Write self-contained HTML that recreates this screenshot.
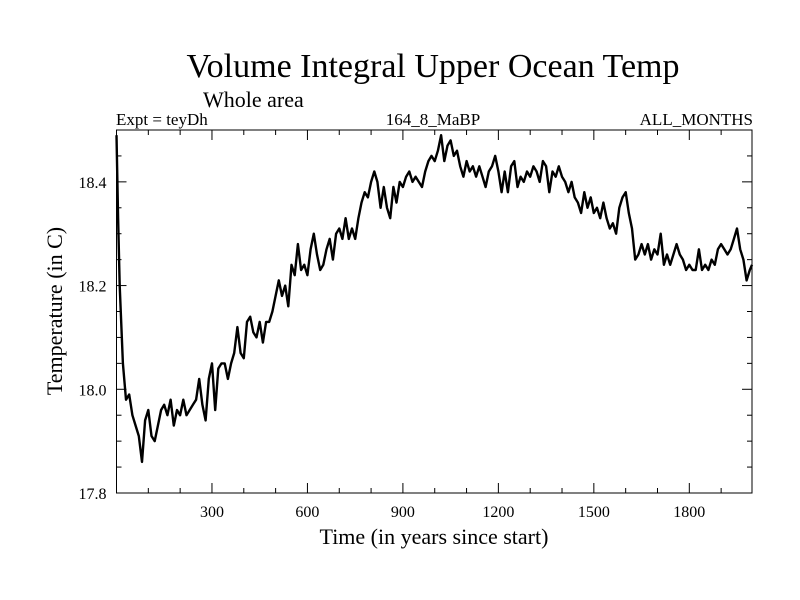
<!DOCTYPE html>
<html><head><meta charset="utf-8"><style>
body{margin:0;background:#fff}
svg{display:block;font-family:"Liberation Serif",serif}
</style></head><body>
<svg id="chart" width="800" height="600" viewBox="0 0 800 600" xmlns="http://www.w3.org/2000/svg">
<rect width="800" height="600" fill="#fff"/>
<text x="433" y="77" font-size="34" text-anchor="middle">Volume Integral Upper Ocean Temp</text>
<text x="203" y="107" font-size="22">Whole area</text>
<text x="116" y="125" font-size="17">Expt = teyDh</text>
<text x="433" y="125" font-size="17" text-anchor="middle">164_8_MaBP</text>
<text x="753" y="125" font-size="17" text-anchor="end">ALL_MONTHS</text>
<text x="434" y="544" font-size="22" text-anchor="middle">Time (in years since start)</text>
<text transform="translate(62,311) rotate(-90)" font-size="22" text-anchor="middle">Temperature (in C)</text>
<g id="axes"></g>
<path id="series" fill="none" stroke="#000" stroke-width="2.4" stroke-linejoin="round"/>
<rect x="116.5" y="130" width="635.5" height="363" fill="none" stroke="#000" stroke-width="1"/>
</svg>
<script>
const years = [0,5,10,20,30,40,50,60,70,80,90,100,110,120,130,140,150,160,170,180,190,200,210,220,230,240,250,260,270,280,290,300,310,320,330,340,350,360,370,380,390,400,410,420,430,440,450,460,470,480,490,500,510,520,530,540,550,560,570,580,590,600,610,620,630,640,650,660,670,680,690,700,710,720,730,740,750,760,770,780,790,800,810,820,830,840,850,860,870,880,890,900,910,920,930,940,950,960,970,980,990,1000,1010,1020,1030,1040,1050,1060,1070,1080,1090,1100,1110,1120,1130,1140,1150,1160,1170,1180,1190,1200,1210,1220,1230,1240,1250,1260,1270,1280,1290,1300,1310,1320,1330,1340,1350,1360,1370,1380,1390,1400,1410,1420,1430,1440,1450,1460,1470,1480,1490,1500,1510,1520,1530,1540,1550,1560,1570,1580,1590,1600,1610,1620,1630,1640,1650,1660,1670,1680,1690,1700,1710,1720,1730,1740,1750,1760,1770,1780,1790,1800,1810,1820,1830,1840,1850,1860,1870,1880,1890,1900,1910,1920,1930,1940,1950,1960,1970,1980,1990,1997];
const temps = [18.49,18.33,18.2,18.05,17.98,17.99,17.95,17.93,17.91,17.86,17.94,17.96,17.91,17.90,17.93,17.96,17.97,17.95,17.98,17.93,17.96,17.95,17.98,17.95,17.96,17.97,17.98,18.02,17.97,17.94,18.02,18.05,17.96,18.04,18.05,18.05,18.02,18.05,18.07,18.12,18.07,18.06,18.13,18.14,18.11,18.10,18.13,18.09,18.13,18.13,18.15,18.18,18.21,18.18,18.20,18.16,18.24,18.22,18.28,18.23,18.24,18.22,18.27,18.30,18.26,18.23,18.24,18.27,18.29,18.25,18.30,18.31,18.29,18.33,18.29,18.31,18.29,18.33,18.36,18.38,18.37,18.40,18.42,18.40,18.35,18.39,18.35,18.33,18.39,18.36,18.40,18.39,18.41,18.42,18.40,18.41,18.40,18.39,18.42,18.44,18.45,18.44,18.46,18.49,18.44,18.47,18.48,18.45,18.46,18.43,18.41,18.44,18.42,18.43,18.41,18.43,18.41,18.39,18.42,18.43,18.45,18.42,18.38,18.42,18.38,18.43,18.44,18.39,18.41,18.40,18.42,18.41,18.43,18.42,18.40,18.44,18.43,18.38,18.42,18.41,18.43,18.41,18.40,18.38,18.40,18.37,18.36,18.34,18.38,18.35,18.37,18.34,18.35,18.33,18.36,18.33,18.31,18.32,18.30,18.35,18.37,18.38,18.34,18.31,18.25,18.26,18.28,18.26,18.28,18.25,18.27,18.26,18.30,18.24,18.26,18.24,18.26,18.28,18.26,18.25,18.23,18.24,18.23,18.23,18.27,18.23,18.24,18.23,18.25,18.24,18.27,18.28,18.27,18.26,18.27,18.29,18.31,18.27,18.25,18.21,18.23,18.24];
const xTickLabels = [300,600,900,1200,1500,1800];
const yTickLabels = ["17.8","18.0","18.2","18.4"];
const xMin=0,xMax=1997,yMin=17.8,yMax=18.5;
const L=116.5,R=752,T=130,B=493;
const sx=v=>L+(v-xMin)/(xMax-xMin)*(R-L);
const sy=v=>B-(v-yMin)/(yMax-yMin)*(B-T);
const NS="http://www.w3.org/2000/svg";
const axes=document.getElementById('axes');
function line(x1,y1,x2,y2,name){const l=document.createElementNS(NS,'line');l.setAttribute('x1',x1);l.setAttribute('y1',y1);l.setAttribute('x2',x2);l.setAttribute('y2',y2);l.setAttribute('stroke','#000');l.setAttribute('stroke-width','1');


axes.appendChild(l);}
for(let v=100;v<xMax;v+=100){const maj=v%300===0;const len=maj?10:5;const x=sx(v);line(x,B,x,B-len,'x-tick');line(x,T,x,T+len,'x-tick-top');}
for(let k=1;k<14;k++){const v=yMin+k*0.05;const maj=k%4===0;const len=maj?10:5;const y=sy(v);line(L,y,L+len,y,'y-tick');line(R,y,R-len,y,'y-tick-right');}
xTickLabels.forEach(v=>{const t=document.createElementNS(NS,'text');t.setAttribute('x',sx(v));t.setAttribute('y',B+24);t.setAttribute('font-size','16');t.setAttribute('text-anchor','middle');t.textContent=v;


axes.appendChild(t);});
yTickLabels.forEach(s=>{const t=document.createElementNS(NS,'text');t.setAttribute('x',L-10);t.setAttribute('y',sy(parseFloat(s))+6);t.setAttribute('font-size','16');t.setAttribute('text-anchor','end');t.textContent=s;


axes.appendChild(t);});
document.getElementById('series').setAttribute('d',years.map((y,i)=>(i?'L':'M')+sx(y).toFixed(1)+','+sy(temps[i]).toFixed(1)).join(''));
</script>
</body></html>
